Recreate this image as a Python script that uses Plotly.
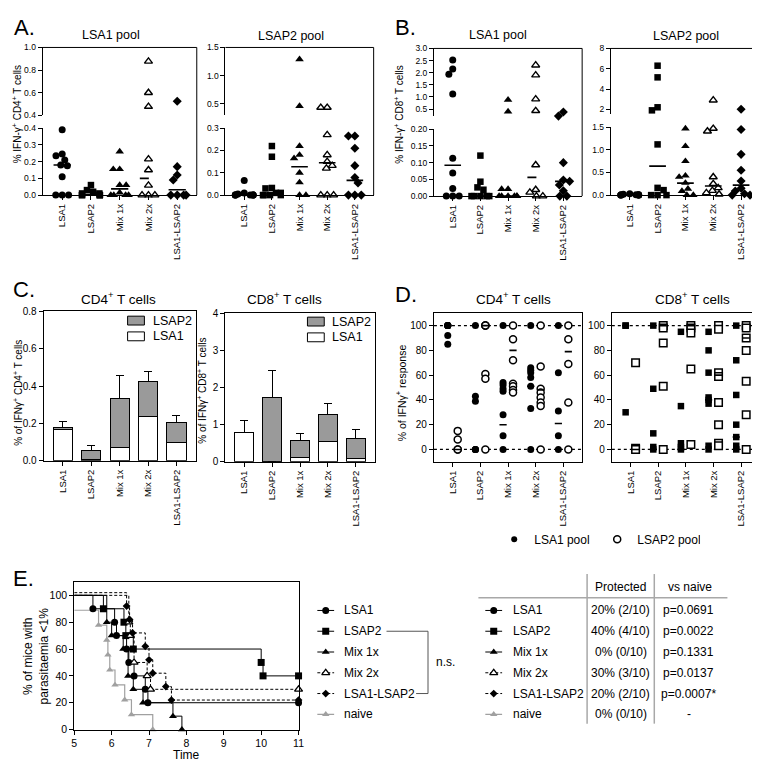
import plotly.graph_objects as go

W, H = 760, 763
FONT = "Liberation Sans, Arial, Helvetica, sans-serif"
INK = "#000000"
BAR_GRAY = "#9a9a9a"
NAIVE_GRAY = "#a0a0a0"
TABLE_LINE = "#a8a8a8"

CATS = ["LSA1", "LSAP2", "Mix 1x", "Mix 2x", "LSA1-LSAP2"]

# ---------------- Panel A: % IFN-g+ CD4+ T cells (one list per vaccine group)
A_LSA1_POOL = [
    [0.39, 0.245, 0.235, 0.21, 0.18, 0.175, 0.11, 0, 0, 0],
    [0.06, 0.03, 0.02, 0.01, 0.01, 0, 0, 0, 0, 0],
    [0.26, 0.155, 0.155, 0.06, 0.06, 0.015, 0, 0, 0, 0],
    [0.877, 0.60, 0.478, 0.215, 0.15, 0.058, 0, 0, 0],
    [0.525, 0.17, 0.12, 0.09, 0, 0, 0, 0],
]
A_LSA1_POOL_MED = [0.18, 0.003, 0.037, 0.10, 0.032]
A_LSAP2_POOL = [
    [0.065, 0.01, 0.005, 0, 0, 0, 0, 0, 0, 0],
    [0.22, 0.172, 0.032, 0.03, 0.01, 0.01, 0, 0, 0, 0],
    [1.29, 0.455, 0.22, 0.18, 0.165, 0.10, 0.057, 0, 0],
    [0.43, 0.43, 0.27, 0.18, 0.15, 0.132, 0.12, 0, 0, 0],
    [0.265, 0.265, 0.21, 0.132, 0.079, 0.054, 0, 0, 0],
]
A_LSAP2_POOL_MED = [0.0, 0.005, 0.127, 0.145, 0.066]

# ---------------- Panel B: % IFN-g+ CD8+ T cells
B_LSA1_POOL = [
    [2.52, 2.15, 1.94, 1.12, 0.113, 0.069, 0.023, 0, 0, 0],
    [0.121, 0.043, 0.026, 0.019, 0, 0, 0, 0, 0],
    [0.88, 0.40, 0.021, 0.021, 0, 0, 0, 0, 0, 0],
    [2.31, 1.90, 0.91, 0.43, 0.093, 0.019, 0.011, 0, 0],
    [0.38, 0.21, 0.10, 0.048, 0.044, 0.033, 0.016, 0, 0],
]
B_LSA1_POOL_MED = [0.092, 0.0, 0.0, 0.056, 0.044]
B_LSAP2_POOL = [
    [0.03, 0.02, 0.01, 0.01, 0, 0, 0, 0, 0, 0],
    [6.3, 5.15, 2.2, 1.9, 1.12, 0.16, 0.11, 0, 0, 0],
    [1.47, 1.08, 0.75, 0.43, 0.40, 0.27, 0.14, 0.09, 0, 0],
    [2.9, 1.47, 1.41, 0.40, 0.25, 0.16, 0.10, 0.05, 0.02],
    [2.0, 1.45, 0.90, 0.55, 0.31, 0.15, 0.09, 0.03, 0, 0],
]
B_LSAP2_POOL_MED = [0.0, 0.64, 0.265, 0.20, 0.22]

# ---------------- Panel C: stacked means (LSA1 pool + LSAP2 pool) with upper error
C_CD4_LSA1 = [0.17, 0.006, 0.07, 0.235, 0.10]
C_CD4_LSA1_ERR = [0.005, 0.01, 0.035, 0.10, 0.06]
C_CD4_LSAP2 = [0.008, 0.05, 0.263, 0.19, 0.105]
C_CD4_LSAP2_ERR = [0.03, 0.025, 0.125, 0.052, 0.036]
C_CD8_LSA1 = [0.79, 0.02, 0.13, 0.56, 0.08]
C_CD8_LSA1_ERR = [0.33, 0.02, 0.10, 0.28, 0.05]
C_CD8_LSAP2 = [0.01, 1.72, 0.45, 0.71, 0.56]
C_CD8_LSAP2_ERR = [0.0, 0.73, 0.17, 0.31, 0.235]

# ---------------- Panel D: % of IFN-g response (filled = LSA1 pool, open = LSAP2 pool)
D_CD4_LSA1POOL = [
    [100, 100, 100, 100, 100, 100, 92, 85],
    [100, 43, 39, 0, 0, 0],
    [100, 54, 52, 49, 47, 28, 11, 0],
    [100, 66, 64, 62, 58, 51, 33, 0],
    [100, 62, 31, 11, 0],
]
D_CD4_LSAP2POOL = [
    [15, 8, 0, 0],
    [100, 100, 100, 61, 57, 0],
    [100, 89, 72, 53, 51, 48, 46],
    [100, 67, 49, 46, 42, 38, 35, 0],
    [100, 89, 69, 38, 0],
]
D_CD4_MED_LSA1POOL = [100, 0, 20, 51, 21]
D_CD4_MED_LSAP2POOL = [0, 100, 80, 48, 79]
D_CD8_LSA1POOL = [
    [100, 100, 30],
    [100, 49, 13, 2, 0],
    [95, 35, 5, 2, 0],
    [95, 80, 62, 42, 40, 37, 3, 0],
    [100, 72, 44, 20, 10, 3, 0],
]
D_CD8_LSAP2POOL = [
    [70, 1, 0],
    [100, 98, 86, 51, 0],
    [100, 98, 94, 65, 4],
    [100, 97, 62, 59, 38, 20, 5, 3],
    [100, 98, 90, 80, 55, 28, 0],
]
D_CD8_MED_LSA1POOL = [100, 0, 0, 40, 10]
D_CD8_MED_LSAP2POOL = [0, 100, 100, 60, 90]

# ---------------- Panel E: survival (time in days, % mice with parasitaemia <1%)
E_LSA1_T = [5, 5.5, 6.08, 6.13, 6.4, 6.46, 6.6, 6.9, 6.97, 11]
E_LSA1_S = [100, 90, 80, 70, 60, 50, 40, 30, 20, 20]
E_LSAP2_T = [5, 5.78, 6.33, 6.38, 6.58, 10.0, 10.05, 11]
E_LSAP2_S = [100, 90, 80, 70, 60, 50, 40, 40]
E_MIX1_T = [5, 5.87, 6.0, 6.31, 6.44, 6.58, 6.84, 7.64, 7.88]
E_MIX1_S = [100, 80, 70, 60, 40, 30, 20, 10, 0]
E_MIX2_T = [5, 6.46, 6.5, 6.6, 6.95, 7.04, 11]
E_MIX2_S = [100, 80, 70, 50, 40, 30, 30]
E_LSA1LSAP2_T = [5, 6.4, 6.48, 6.56, 6.9, 7.0, 7.1, 7.45, 7.6, 11]
E_LSA1LSAP2_S = [102, 92, 82, 72, 62, 52, 42, 32, 22, 22]
E_NAIVE_T = [5, 5.65, 5.87, 5.9, 5.95, 6.09, 6.35, 6.53, 7.1]
E_NAIVE_S = [88.9, 77.8, 66.7, 55.6, 44.4, 33.3, 22.2, 11.1, 0]

TABLE_ROWS = ["LSA1", "LSAP2", "Mix 1x", "Mix 2x", "LSA1-LSAP2", "naive"]
TABLE_PROTECTED = ["20% (2/10)", "40% (4/10)", "0% (0/10)", "30% (3/10)", "20% (2/10)", "0% (0/10)"]
TABLE_PVALUE = ["p=0.0691", "p=0.0022", "p=0.1331", "p=0.0137", "p=0.0007*", "-"]

# ---------------- styles
GROUP_MARKERS = [
    dict(symbol="circle", size=7, color=INK, line=dict(width=0)),
    dict(symbol="square", size=6.5, color=INK, line=dict(width=0)),
    dict(symbol="triangle-up", size=7.5, color=INK, line=dict(width=0)),
    dict(symbol="triangle-up", size=7, color="white", line=dict(color=INK, width=1.4)),
    dict(symbol="diamond", size=7, color=INK, line=dict(width=0)),
]
E_STYLES = [
    (dict(color=INK, width=1), dict(symbol="circle", size=7, color=INK, line=dict(width=0))),
    (dict(color=INK, width=1), dict(symbol="square", size=7, color=INK, line=dict(width=0))),
    (dict(color=INK, width=1), dict(symbol="triangle-up", size=7, color=INK, line=dict(width=0))),
    (dict(color=INK, width=1, dash="3px,2px"), dict(symbol="triangle-up", size=7, color="white", line=dict(color=INK, width=1.3))),
    (dict(color=INK, width=1, dash="3px,2px"), dict(symbol="diamond", size=6, color=INK, line=dict(width=0))),
    (dict(color=NAIVE_GRAY, width=1.2), dict(symbol="triangle-up", size=6.5, color=NAIVE_GRAY, line=dict(width=0))),
]

fig = go.Figure()
layout = {}
ann = []
shp = []


def dx(l, r):
    return [l / W, r / W]


def dy(t, b):
    return [1 - b / H, 1 - t / H]


def px(x):
    return x / W


def py(y):
    return 1 - y / H


def akey(aid):
    return aid[0] + "axis" + aid[1:]


def axis(**kw):
    base = dict(showline=True, linecolor=INK, linewidth=1, ticks="outside", ticklen=4,
                tickwidth=1, tickcolor=INK, showgrid=False, zeroline=False,
                tickfont=dict(family=FONT, size=8.5, color=INK), fixedrange=True)
    base.update(kw)
    return base


def text(x, y, s, size=12, xanchor="center", yanchor="middle", angle=0):
    ann.append(dict(x=px(x), y=py(y), xref="paper", yref="paper", text=s, showarrow=False,
                    xanchor=xanchor, yanchor=yanchor, textangle=angle,
                    font=dict(family=FONT, size=size, color=INK)))


def pline(x0, y0, x1, y1, color=INK, width=1):
    shp.append(dict(type="line", xref="paper", yref="paper", x0=px(x0), y0=py(y0),
                    x1=px(x1), y1=py(y1), line=dict(color=color, width=width)))


CAT_RANGE = [-0.68, 4.68]


def cat_xaxis(xid, yid, l, r, **kw):
    layout[akey(xid)] = axis(domain=dx(l, r), anchor=yid, range=CAT_RANGE, tickmode="array",
                             tickvals=list(range(5)), ticktext=CATS, tickangle=-90,
                             tickfont=dict(family=FONT, size=9.5, color=INK), **kw)


def swarm(ys, dia=6.5, maxoff=9.0):
    n = len(ys)
    order = sorted(range(n), key=lambda k: ys[k])
    out = [0.0] * n
    placed = []
    last = 1.0
    for k in order:
        y = ys[k]
        iv = []
        for (xp, yp) in placed:
            d = abs(yp - y)
            if d < dia - 1e-9:
                h = (dia * dia - d * d) ** 0.5
                iv.append((xp - h, xp + h))
        cands = {0.0}
        for a, b in iv:
            cands.add(a)
            cands.add(b)
        ok = [c for c in cands if all(not (a + 1e-6 < c < b - 1e-6) for a, b in iv)]
        ok.sort(key=lambda c: (round(abs(c), 4), 0 if c * last < 0 else 1))
        x = ok[0]
        if abs(x) > maxoff:
            x = maxoff if x > 0 else -maxoff
        if x != 0:
            last = x
        out[k] = x
        placed.append((x, y))
    return out


def broken_panel(xid, yb, yt, xl, xr, bot_px, top_px, bot_rng, top_rng, bot_ticks, top_ticks,
                 bot_fmt, top_fmt, groups, meds, med_dash):
    cat_xaxis(xid, yb, xl, xr)
    layout[akey(yb)] = axis(domain=dy(*bot_px), anchor=xid, range=bot_rng, tickmode="array",
                            tickvals=bot_ticks, tickformat=bot_fmt)
    layout[akey(yt)] = axis(domain=dy(*top_px), anchor=xid, range=top_rng, tickmode="array",
                            tickvals=top_ticks, tickformat=top_fmt)
    bs = (bot_px[1] - bot_px[0]) / (bot_rng[1] - bot_rng[0])
    ts = (top_px[1] - top_px[0]) / (top_rng[1] - top_rng[0])
    xs = (xr - xl) / (CAT_RANGE[1] - CAT_RANGE[0])
    thr = bot_rng[1]
    for i, vals in enumerate(groups):
        ypx = [bot_px[1] - (v - bot_rng[0]) * bs if v <= thr else top_px[1] - (v - top_rng[0]) * ts
               for v in vals]
        offs = swarm(ypx)
        xb, vb, xt, vt = [], [], [], []
        for v, o in zip(vals, offs):
            if v <= thr:
                xb.append(i + o / xs)
                vb.append(v)
            else:
                xt.append(i + o / xs)
                vt.append(v)
        for xx, vv, ya in ((xb, vb, yb), (xt, vt, yt)):
            if xx:
                fig.add_trace(go.Scatter(x=xx, y=vv, xaxis=xid, yaxis=ya, mode="markers",
                                         marker=GROUP_MARKERS[i], cliponaxis=False,
                                         showlegend=False, hoverinfo="skip"))
    for i, m in enumerate(meds):
        ya = yb if m <= thr else yt
        fig.add_trace(go.Scatter(x=[i - 0.3, i + 0.3], y=[m, m], xaxis=xid, yaxis=ya, mode="lines",
                                 line=dict(color=INK, width=1.6, dash="dash" if med_dash[i] else "solid"),
                                 cliponaxis=False, showlegend=False, hoverinfo="skip"))
    # frame: top and right borders
    pline(xl, top_px[0], xr, top_px[0])
    pline(xr, top_px[0], xr, bot_px[1])


def bar_panel(xid, yid, xl, xr, t, b, rng, ticks, fmt, lsa1, lsa1_err, lsap2, lsap2_err):
    cat_xaxis(xid, yid, xl, xr, mirror=True)
    layout[akey(yid)] = axis(domain=dy(t, b), anchor=xid, range=rng, tickmode="array",
                             tickvals=ticks, tickformat=fmt, mirror=True,
                             tickfont=dict(family=FONT, size=10, color=INK))
    cats = list(range(5))
    fig.add_trace(go.Bar(x=cats, y=lsa1, width=0.68, xaxis=xid, yaxis=yid, name="LSA1",
                         marker=dict(color="white", line=dict(color=INK, width=1)),
                         error_y=dict(type="data", symmetric=False, array=lsa1_err,
                                      arrayminus=[0] * 5, color=INK, thickness=1, width=4),
                         showlegend=False, hoverinfo="skip"))
    fig.add_trace(go.Bar(x=cats, y=lsap2, width=0.68, xaxis=xid, yaxis=yid, name="LSAP2",
                         marker=dict(color=BAR_GRAY, line=dict(color=INK, width=1)),
                         error_y=dict(type="data", symmetric=False, array=lsap2_err,
                                      arrayminus=[0] * 5, color=INK, thickness=1, width=4),
                         showlegend=False, hoverinfo="skip"))


def d_panel(xid, yid, xl, xr, t, b, filled, opened, medf, medo, sym):
    cat_xaxis(xid, yid, xl, xr, mirror=True)
    layout[akey(yid)] = axis(domain=dy(t, b), anchor=xid, range=[-10, 110], tickmode="array",
                             tickvals=[0, 20, 40, 60, 80, 100], mirror=True,
                             tickfont=dict(family=FONT, size=10, color=INK))
    for v in (0, 100):
        shp.append(dict(type="line", xref=xid + " domain", yref=yid, x0=0, x1=1, y0=v, y1=v,
                        line=dict(color=INK, width=1.2, dash="dot"), layer="below"))
    fm = dict(symbol=sym, size=7 if sym == "circle" else 6.5, color=INK, line=dict(width=0))
    om = dict(symbol=sym, size=7 if sym == "circle" else 7.5, color="white", line=dict(color=INK, width=1.5))
    for i in range(5):
        fig.add_trace(go.Scatter(x=[i - 0.18] * len(filled[i]), y=filled[i], xaxis=xid, yaxis=yid,
                                 mode="markers", marker=fm, cliponaxis=False, showlegend=False,
                                 hoverinfo="skip"))
        fig.add_trace(go.Scatter(x=[i + 0.18] * len(opened[i]), y=opened[i], xaxis=xid, yaxis=yid,
                                 mode="markers", marker=om, cliponaxis=False, showlegend=False,
                                 hoverinfo="skip"))
    for i in range(5):
        for c, m in ((i - 0.18, medf[i]), (i + 0.18, medo[i])):
            fig.add_trace(go.Scatter(x=[c - 0.13, c + 0.13], y=[m, m], xaxis=xid, yaxis=yid,
                                     mode="lines", line=dict(color=INK, width=1.6),
                                     cliponaxis=False, showlegend=False, hoverinfo="skip"))


# ---------------- build panels
broken_panel("x", "y", "y2", 32, 188, (116, 184), (34, 103), [0, 0.4], [0.4, 1.0],
             [0, 0.1, 0.2, 0.3, 0.4], [0.4, 0.6, 0.8, 1.0], ".1f", ".1f",
             A_LSA1_POOL, A_LSA1_POOL_MED, [False, False, False, True, False])
broken_panel("x2", "y3", "y4", 217, 367, (116, 184), (34, 103), [0, 0.3], [0.29, 1.5],
             [0, 0.1, 0.2, 0.3], [0.5, 1.0, 1.5], ".1f", ".1f",
             A_LSAP2_POOL, A_LSAP2_POOL_MED, [False] * 5)
broken_panel("x3", "y5", "y6", 428, 578, (117, 185), (35, 104), [0, 0.2], [0.2, 3.0],
             [0, 0.05, 0.10, 0.15, 0.20], [0.5, 1.0, 1.5, 2.0, 2.5, 3.0], ".2f", ".1f",
             B_LSA1_POOL, B_LSA1_POOL_MED, [False, False, False, True, False])
broken_panel("x4", "y7", "y8", 607, 758, (115, 184), (35, 102), [0, 1.5], [1.5, 8],
             [0, 0.5, 1.0, 1.5], [2, 4, 6, 8], ".1f", "d",
             B_LSAP2_POOL, B_LSAP2_POOL_MED, [False] * 5)

bar_panel("x5", "y9", 33, 187, 302, 454, [0, 0.8], [0, 0.2, 0.4, 0.6, 0.8], ".1f",
          C_CD4_LSA1, C_CD4_LSA1_ERR, C_CD4_LSAP2, C_CD4_LSAP2_ERR)
bar_panel("x6", "y10", 217, 368, 304, 455, [0, 4], [0, 1, 2, 3, 4], "d",
          C_CD8_LSA1, C_CD8_LSA1_ERR, C_CD8_LSAP2, C_CD8_LSAP2_ERR)

d_panel("x7", "y11", 428, 578, 304, 455, D_CD4_LSA1POOL, D_CD4_LSAP2POOL,
        D_CD4_MED_LSA1POOL, D_CD4_MED_LSAP2POOL, "circle")
d_panel("x8", "y12", 608, 758, 304, 455, D_CD8_LSA1POOL, D_CD8_LSAP2POOL,
        D_CD8_MED_LSA1POOL, D_CD8_MED_LSAP2POOL, "square")

# D legend (LSA1 pool / LSAP2 pool)
fig.add_trace(go.Scatter(x=[None], y=[None], xaxis="x7", yaxis="y11", mode="markers", name="LSA1 pool",
                         marker=dict(symbol="circle", size=6, color=INK), showlegend=True))
fig.add_trace(go.Scatter(x=[None], y=[None], xaxis="x7", yaxis="y11", mode="markers", name="LSAP2 pool",
                         marker=dict(symbol="circle", size=7, color="white", line=dict(color=INK, width=1.5)),
                         showlegend=True))

# ---------------- E survival curves
layout["xaxis9"] = axis(domain=dx(64, 291), anchor="y13", range=[5, 11], tickmode="array",
                        tickvals=[5, 6, 7, 8, 9, 10, 11], mirror=True,
                        tickfont=dict(family=FONT, size=10.5, color=INK))
layout["yaxis13"] = axis(domain=dy(577, 727), anchor="x9", range=[0, 110], tickmode="array",
                         tickvals=[0, 20, 40, 60, 80, 100], mirror=True,
                         tickfont=dict(family=FONT, size=10.5, color=INK))
E_CURVES = [(E_LSA1_T, E_LSA1_S), (E_LSAP2_T, E_LSAP2_S), (E_MIX1_T, E_MIX1_S),
            (E_MIX2_T, E_MIX2_S), (E_LSA1LSAP2_T, E_LSA1LSAP2_S), (E_NAIVE_T, E_NAIVE_S)]
for idx in [5, 0, 1, 2, 3, 4]:
    tt, ss = E_CURVES[idx]
    ln, mk = E_STYLES[idx]
    fig.add_trace(go.Scatter(x=tt, y=ss, xaxis="x9", yaxis="y13", mode="lines", line=dict(ln, shape="hv"),
                             cliponaxis=False, showlegend=False, hoverinfo="skip"))
for idx in [5, 0, 1, 2, 3, 4]:
    tt, ss = E_CURVES[idx]
    ln, mk = E_STYLES[idx]
    fig.add_trace(go.Scatter(x=tt[1:], y=ss[1:], xaxis="x9", yaxis="y13", mode="markers", marker=mk,
                             cliponaxis=False, showlegend=False, hoverinfo="skip"))

# ---------------- E legend + table on a hidden row axis (x in px, y = row index)
ROW0, ROWSTEP = 606.0, 21.1
layout["xaxis10"] = dict(domain=[0, 1], range=[0, W], visible=False, fixedrange=True, anchor="y14")
layout["yaxis14"] = dict(domain=dy(ROW0 - ROWSTEP / 2, ROW0 + 5.5 * ROWSTEP), range=[5.5, -0.5],
                         visible=False, fixedrange=True, anchor="x10")
LEG_SYM = (310, 327)
TAB_SYM = (480, 497)
for r, label in enumerate(TABLE_ROWS):
    ln, mk = E_STYLES[r]
    for (x0, x1) in (LEG_SYM, TAB_SYM):
        fig.add_trace(go.Scatter(x=[x0, x1], y=[r, r], xaxis="x10", yaxis="y14", mode="lines", line=ln,
                                 showlegend=False, hoverinfo="skip"))
        fig.add_trace(go.Scatter(x=[(x0 + x1) / 2], y=[r], xaxis="x10", yaxis="y14", mode="markers",
                                 marker=mk, showlegend=False, hoverinfo="skip"))
    for xx, s, anc in ((335, label, "left"), (506, label, "left"),
                       (617, TABLE_PROTECTED[r], "center"), (686, TABLE_PVALUE[r], "center")):
        ann.append(dict(x=xx, y=r, xref="x10", yref="y14", text=s, showarrow=False, xanchor=anc,
                        yanchor="middle", font=dict(family=FONT, size=12, color=INK)))
shp.append(dict(type="path", xref="x10", yref="y14", path="M 380,1 L 422,1 L 422,4 L 410,4",
                line=dict(color="#555555", width=1)))
ann.append(dict(x=428, y=2.5, xref="x10", yref="y14", text="n.s.", showarrow=False, xanchor="left",
                yanchor="middle", font=dict(family=FONT, size=12, color=INK)))
text(617, 582, "Protected")
text(687, 582, "vs naive")
pline(473, 593, 725, 593, TABLE_LINE, 1.5)
pline(583, 569, 583, 721, TABLE_LINE, 1.5)
pline(651, 569, 651, 721, TABLE_LINE, 1.5)

# ---------------- C legends (boxes + labels)
for (bx, by, tx) in ((118, 307, 142), (300, 308, 323)):
    shp.append(dict(type="rect", xref="paper", yref="paper", x0=px(bx), x1=px(bx + 17), y0=py(by + 9),
                    y1=py(by), fillcolor=BAR_GRAY, line=dict(color=INK, width=1)))
    shp.append(dict(type="rect", xref="paper", yref="paper", x0=px(bx), x1=px(bx + 17), y0=py(by + 25),
                    y1=py(by + 16), fillcolor="white", line=dict(color=INK, width=1)))
    text(tx, by + 4.5, "LSAP2", 12.5, xanchor="left")
    text(tx, by + 20.5, "LSA1", 12.5, xanchor="left")

# ---------------- titles, axis titles, panel letters
text(101, 21, "LSA1 pool", 12.5)
text(283, 22, "LSAP2 pool", 12.5)
text(493, 21, "LSA1 pool", 12.5)
text(683, 22, "LSAP2 pool", 12.5)
text(109, 289, "CD4<sup>+</sup> T cells", 13.5)
text(277, 289, "CD8<sup>+</sup> T cells", 13.5)
text(509, 289, "CD4<sup>+</sup> T cells", 13.5)
text(690, 289, "CD8<sup>+</sup> T cells", 13.5)

text(6, 102, "% IFN-γ<sup>+</sup> CD4<sup>+</sup> T cells", 10, angle=-90)
text(393, 102, "% IFN-γ<sup>+</sup> CD8<sup>+</sup> T cells", 10, angle=-90)
text(7, 385, "% of IFNγ<sup>+</sup> CD4<sup>+</sup> T cells", 10, angle=-90)
text(193, 383, "% of IFNγ<sup>+</sup> CD8<sup>+</sup> T cells", 10, angle=-90)
text(395, 385, "% of IFNγ<sup>+</sup> response", 10.5, angle=-90)
text(25, 652, "% of mice with<br>parasitaemia &lt;1%", 12, angle=-90)
text(178, 753, "Time", 12)

for letter, (lx, ly) in (("A.", (14, 14)), ("B.", (399, 14)), ("C.", (13, 280)),
                         ("D.", (400, 285)), ("E.", (13, 574))):
    text(lx, ly, letter, 22)

layout.update(
    width=W, height=H, margin=dict(l=0, r=0, t=0, b=0),
    paper_bgcolor="white", plot_bgcolor="rgba(0,0,0,0)",
    font=dict(family=FONT, size=12, color=INK),
    barmode="stack", hovermode=False, showlegend=True,
    legend=dict(orientation="h", x=px(489), y=py(519), xanchor="left", yanchor="top",
                traceorder="normal", entrywidth=58, entrywidthmode="pixels",
                font=dict(family=FONT, size=12, color=INK), bgcolor="rgba(0,0,0,0)",
                itemclick=False, itemdoubleclick=False),
    annotations=ann, shapes=shp,
)
fig.update_layout(layout)
fig.write_html("out.html")
